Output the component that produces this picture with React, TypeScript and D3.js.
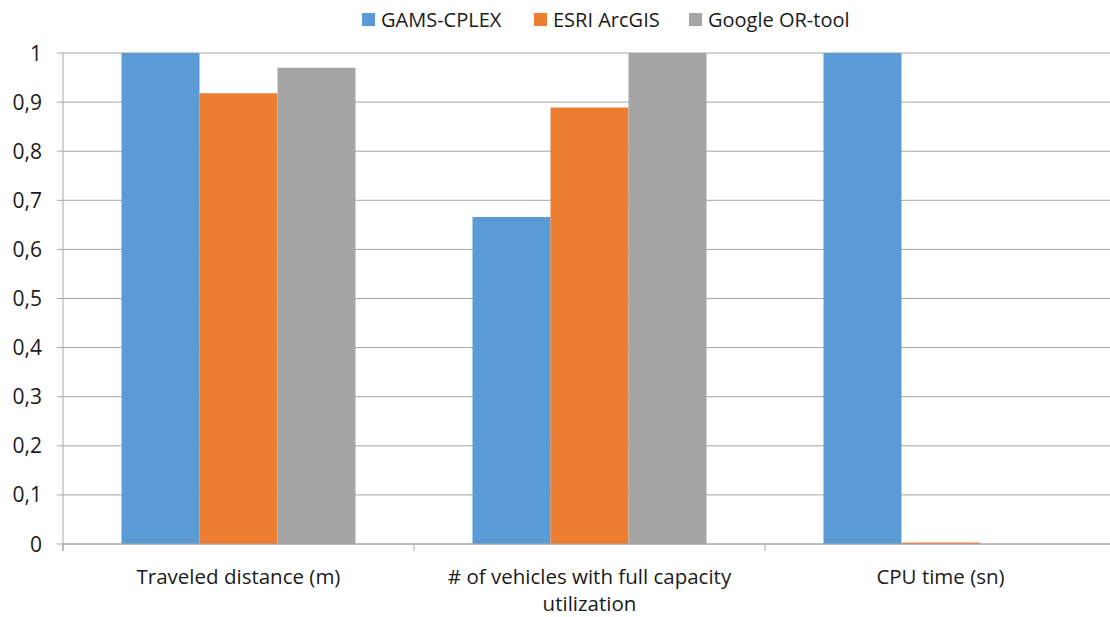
import { useEffect, useRef } from "react";
import * as d3 from "d3";

const categories = [
  ["Traveled distance (m)"],
  ["# of vehicles with full capacity", "utilization"],
  ["CPU time (sn)"],
];
const seriesNames = ["GAMS-CPLEX", "ESRI ArcGIS", "Google OR-tool"];
const gamsValues = [1, 0.666, 1];
const esriValues = [0.918, 0.889, 0.003];
const googleValues = [0.97, 1, 0];
const yTicks = [0, 0.1, 0.2, 0.3, 0.4, 0.5, 0.6, 0.7, 0.8, 0.9, 1];
const colors = ["#5b9bd5", "#ed7d31", "#a5a5a5"];

export default function App() {
  const svgRef = useRef<SVGSVGElement | null>(null);

  useEffect(() => {
    document.body.style.margin = "0";
    if (!svgRef.current) return;
    const W = 1110;
    const H = 617;
    const left = 63;
    const right = 1116;
    const top = 53;
    const bottom = 544;
    const font = "'Open Sans', sans-serif";

    const svg = d3.select(svgRef.current);
    svg.selectAll("*").remove();
    svg.attr("width", W).attr("height", H);

    const x = d3
      .scaleBand<number>()
      .domain(categories.map((_, i) => i))
      .range([left, right]);
    const y = d3.scaleLinear().domain([0, 1]).range([bottom, top]);

    // Bars sit in the middle 2/3 of each category (gap width 150%)
    const inner = d3
      .scaleBand<number>()
      .domain([0, 1, 2])
      .range([x.bandwidth() / 6, (x.bandwidth() * 5) / 6]);

    // gridlines
    svg
      .append("g")
      .selectAll("line")
      .data(yTicks)
      .enter()
      .append("line")
      .attr("x1", left - 6)
      .attr("x2", right)
      .attr("y1", (d) => y(d))
      .attr("y2", (d) => y(d))
      .attr("stroke", "#a6a6a6")
      .attr("stroke-width", 1);

    svg
      .append("g")
      .selectAll("text")
      .data(yTicks)
      .enter()
      .append("text")
      .attr("x", 42)
      .attr("y", (d) => y(d))
      .attr("dy", "0.36em")
      .attr("text-anchor", "end")
      .attr("font-family", font)
      .attr("font-size", 21)
      .attr("fill", "#1a1a1a")
      .text((d) => (d === 0 || d === 1 ? String(d) : d3.format(".1f")(d).replace(".", ",")));

    const series = [gamsValues, esriValues, googleValues];
    series.forEach((vals, s) => {
      svg
        .append("g")
        .selectAll("rect")
        .data(vals)
        .enter()
        .append("rect")
        .attr("x", (_, i) => (x(i) as number) + (inner(s) as number))
        .attr("width", inner.bandwidth())
        .attr("y", (d) => y(d))
        .attr("height", (d) => bottom - y(d))
        .attr("fill", colors[s]);
    });

    // axes lines
    svg
      .append("line")
      .attr("x1", left)
      .attr("x2", left)
      .attr("y1", top)
      .attr("y2", bottom + 7)
      .attr("stroke", "#a6a6a6");
    svg
      .append("line")
      .attr("x1", left)
      .attr("x2", right)
      .attr("y1", bottom)
      .attr("y2", bottom)
      .attr("stroke", "#a6a6a6");
    svg
      .append("g")
      .selectAll("line")
      .data(categories.map((_, i) => i))
      .enter()
      .append("line")
      .attr("x1", (i) => x(i) as number)
      .attr("x2", (i) => x(i) as number)
      .attr("y1", bottom)
      .attr("y2", bottom + 7)
      .attr("stroke", "#a6a6a6");

    // category labels
    categories.forEach((lines, i) => {
      const t = svg
        .append("text")
        .attr("text-anchor", "middle")
        .attr("font-family", font)
        .attr("font-size", 20.5)
        .attr("fill", "#1a1a1a");
      lines.forEach((ln, j) => {
        t.append("tspan")
          .attr("x", (x(i) as number) + x.bandwidth() / 2)
          .attr("y", 584 + j * 27)
          .text(ln);
      });
    });

    // legend
    const legendX = [362, 534, 689];
    seriesNames.forEach((name, s) => {
      svg
        .append("rect")
        .attr("x", legendX[s])
        .attr("y", 13)
        .attr("width", 13)
        .attr("height", 13)
        .attr("fill", colors[s]);
      svg
        .append("text")
        .attr("x", legendX[s] + 19)
        .attr("y", 27)
        .attr("font-family", font)
        .attr("font-size", 20)
        .attr("fill", "#1a1a1a")
        .text(name);
    });
  }, []);

  return <svg ref={svgRef} style={{ display: "block" }} />;
}
